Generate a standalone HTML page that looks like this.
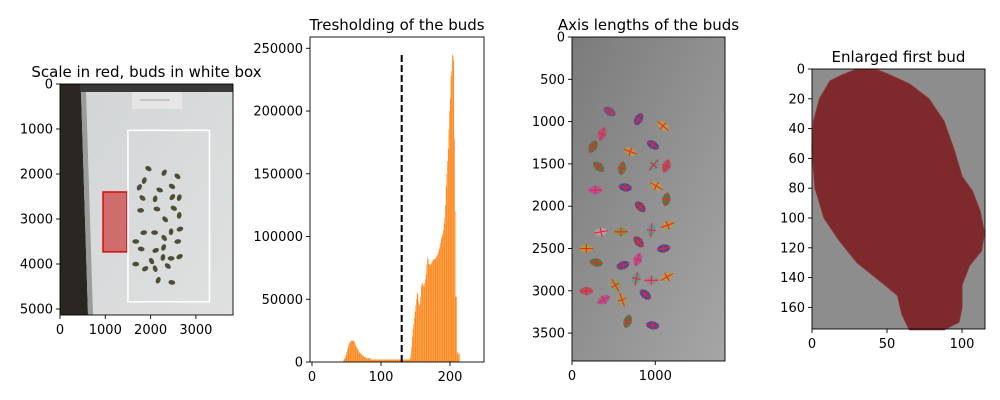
<!DOCTYPE html>
<html><head><meta charset="utf-8">
<style>
html,body{margin:0;padding:0;background:#fff;}
svg{display:block;font-family:"DejaVu Sans","Liberation Sans",sans-serif;}
.tick{font-size:13px;fill:#000;}
.title{font-size:15px;fill:#000;}
</style></head>
<body>
<svg id="fig" width="1000" height="400" viewBox="0 0 1000 400" xmlns="http://www.w3.org/2000/svg">
<defs>
<linearGradient id="paperGrad" x1="0" x2="1" y1="0" y2="1">
<stop offset="0" stop-color="#d2d5d6"/><stop offset="1" stop-color="#dfe1e1"/></linearGradient>
<linearGradient id="grayGrad" x1="0" x2="1" y1="0" y2="1">
<stop offset="0" stop-color="#7b7b7b"/><stop offset="1" stop-color="#a6a6a6"/></linearGradient>
</defs>
<g id="p1"></g>
<g id="p2"></g>
<g id="p3"></g>
<g id="p4"></g>
</svg>
<script>
// ---------- data ----------
const histStart = 45;
const histCounts = [1,2,3,4,6,
8,10,12,14,15,16,17,17,17,17,
17,16,15,13,12,11,10,9,8,7,
7,6,6,5,5,4,4,4,3,3,
3,3,3,3,3,2,2,2,2,2,
2,2,2,2,2,2,2,2,2,2,
2,2,2,2,2,2,2,2,2,2,
2,2,2,2,2,2,2,2,2,2,
2,2,2,2,2,2,2,2,2,2,
2,2,2,2,2,2,2,2,2,2,
2,2,3,6,12,20,26,30,35,40,
45,50,55,54,48,45,46,52,60,63,
62,61,60,63,66,70,78,83,82,78,
78,77,78,79,80,81,82,82,82,83,
84,85,86,88,90,92,95,98,100,102,
105,110,115,125,140,150,160,170,185,200,
210,228,232,245,244,240,178,120,52,52,
8,7,6,7]; // thousands
const thresholdValue = 130;
const thresholdTop = 245000;
const budX = [452,800,1092,360,252,972,700,320,600,980,1132,280,640,1012,1132,820,348,588,952,1148,172,800,1100,292,612,788,1140,772,952,172,520,600,880,380,668,968];
const budY = [881,972,1051,1146,1296,1276,1355,1533,1552,1513,1525,1809,1778,1762,1920,2007,2303,2303,2283,2224,2500,2421,2500,2666,2698,2631,2836,2856,2876,3002,2935,3105,3045,3105,3361,3409];
const budAngle = [30,-60,40,-70,-60,30,20,40,-80,-50,-70,0,10,30,-80,45,-10,0,-85,-20,0,50,-10,10,-20,-70,-30,-80,0,0,60,70,40,-30,-70,10];
const budColors = ["#5a5a8a","#4a4a9a","#a8a050","#a05a88","#4a7a4a","#4a4a9a","#a89a50","#4a7a4a","#5a7a4a","#5a9a9a","#a05a70","#a05aa8","#4a4a9a","#a8a050","#4a7a4a","#5a4a7a","#a0a0a8","#7a9a4a","#5a9a9a","#a89a50","#a89a40","#6a4a7a","#4a4a9a","#4a7a4a","#4a4a9a","#a05aa8","#a8a050","#5a9a9a","#8a8aa0","#a05a70","#8aa04a","#9aa050","#4a4a9a","#a05aa8","#4a7a4a","#4a4a9a"];
const p1Ticks = {x:[0,1000,2000,3000], y:[0,1000,2000,3000,4000,5000]};
const p2Ticks = {x:[0,100,200], y:[0,50000,100000,150000,200000,250000]};
const p3Ticks = {x:[0,1000], y:[0,500,1000,1500,2000,2500,3000,3500]};
const p4Ticks = {x:[0,50,100], y:[0,20,40,60,80,100,120,140,160]};
const blobX = [30,42,52,65,78,88,95,100,107,112,115,113,105,100,100,98,88,65,60,57,45,30,18,8,2,0,1,5,12,20];
const blobY = [0,0,4,10,20,35,55,72,82,95,110,122,132,145,160,170,175,175,165,152,142,130,115,100,80,55,35,20,8,4];

const NS="http://www.w3.org/2000/svg";
function mk(parent,tag,attrs){const e=document.createElementNS(NS,tag);for(const k in attrs)e.setAttribute(k,attrs[k]);parent.appendChild(e);return e;}

function axes(g,box,xs,ys,ticks,title,prefix){
  const fr=mk(g,'rect',{x:box.x0,y:box.y0,width:box.x1-box.x0,height:box.y1-box.y0,fill:'none',stroke:'#000','stroke-width':0.9});
  
  
  ticks.x.forEach(v=>{const px=xs(v);
    const l=mk(g,'line',{x1:px,x2:px,y1:box.y1,y2:box.y1+4,stroke:'#000','stroke-width':0.9});
    
    
    const t=mk(g,'text',{x:px,y:box.y1+19,'text-anchor':'middle',class:'tick'});t.textContent=v;
    
    
  });
  ticks.y.forEach(v=>{const py=ys(v);
    const l=mk(g,'line',{x1:box.x0-4,x2:box.x0,y1:py,y2:py,stroke:'#000','stroke-width':0.9});
    
    
    const t=mk(g,'text',{x:box.x0-7,y:py+4.5,'text-anchor':'end',class:'tick'});t.textContent=v;
    
    
  });
  const tt=mk(g,'text',{x:(box.x0+box.x1)/2,y:box.y0-7,'text-anchor':'middle',class:'title'});tt.textContent=title;
  
  
}

// ---------- panel 1 ----------
(function(){
  const g=document.getElementById('p1');
  const box={x0:60,x1:233,y0:84,y1:315};
  const xs=v=>box.x0+v*0.0453, ys=v=>box.y0+v*0.045;
  mk(g,'rect',{x:box.x0,y:box.y0,width:173,height:231,fill:'#2a2621'});
  mk(g,'rect',{x:box.x0+20,y:box.y0,width:153,height:10,fill:'#3a3937'});
  const paper=mk(g,'polygon',{points:`81,92 233,92 233,315 88,315`,fill:'url(#paperGrad)'});
  
  
  mk(g,'polygon',{points:`81,92 86,92 93,315 88,315`,fill:'#9a9c9c'});
  mk(g,'rect',{x:132,y:92,width:50,height:17,fill:'#e6e6e6'});
  mk(g,'line',{x1:140,x2:170,y1:100,y2:100,stroke:'#666','stroke-width':0.6});
  budX.forEach((x,i)=>{
    const b=mk(g,'ellipse',{cx:xs(x+1500),cy:ys(budY[i]+1000),rx:3.4,ry:2.3,fill:'#4e4e36',transform:`rotate(${budAngle[i]} ${xs(x+1500)} ${ys(budY[i]+1000)})`});
    
    
  });
  const red=mk(g,'rect',{x:xs(950),y:ys(2400),width:xs(1480)-xs(950),height:ys(3730)-ys(2400),fill:'rgba(205,80,80,0.8)',stroke:'#e01010','stroke-width':1.6});
  
  
  const wb=mk(g,'rect',{x:xs(1500),y:ys(1030),width:xs(3300)-xs(1500),height:ys(4840)-ys(1030),fill:'none',stroke:'#fff','stroke-width':1.6});
  
  
  axes(g,box,xs,ys,p1Ticks,'Scale in red, buds in white box','p1');
})();

// ---------- panel 2 ----------
(function(){
  const g=document.getElementById('p2');
  const box={x0:310,x1:484,y0:37,y1:362};
  const xs=v=>312+v*0.69, ys=v=>362-v*0.0012548;
  histCounts.forEach((c,i)=>{
    const v=(histStart+i), y=ys(c*1000);
    const r=mk(g,'rect',{x:xs(v),y:y,width:0.62,height:362-y,fill:'#ff7f0e'});
    
    
  });
  const d=mk(g,'line',{x1:xs(thresholdValue),x2:xs(thresholdValue),y1:ys(0),y2:ys(thresholdTop),stroke:'#000','stroke-width':2,'stroke-dasharray':'7,3'});
  
  
  axes(g,box,xs,ys,p2Ticks,'Tresholding of the buds','p2');
})();

// ---------- panel 3 ----------
(function(){
  const g=document.getElementById('p3');
  const box={x0:572,x1:725,y0:37,y1:361};
  const xs=v=>572+v*0.0833, ys=v=>37+v*0.0846;
  mk(g,'rect',{x:box.x0,y:box.y0,width:153,height:324,fill:'url(#grayGrad)'});
  budX.forEach((x,i)=>{
    const cx=xs(x), cy=ys(budY[i]), a=budAngle[i];
    const e=mk(g,'ellipse',{cx,cy,rx:6.5,ry:4,fill:budColors[i],transform:`rotate(${a} ${cx} ${cy})`});
    
    
    const c=mk(g,'path',{d:`M${cx-7},${cy}L${cx+7},${cy}M${cx},${cy-4.5}L${cx},${cy+4.5}`,stroke:'#ff2020','stroke-width':1.1,fill:'none',transform:`rotate(${a} ${cx} ${cy})`});
    
    
  });
  axes(g,box,xs,ys,p3Ticks,'Axis lengths of the buds','p3');
})();

// ---------- panel 4 ----------
(function(){
  const g=document.getElementById('p4');
  const box={x0:812,x1:985,y0:69,y1:329};
  const xs=v=>812+v*1.5, ys=v=>69+v*1.49;
  mk(g,'rect',{x:box.x0,y:box.y0,width:173,height:260,fill:'#8d8d8d'});
  const pts=blobX.map((x,i)=>xs(x)+','+ys(blobY[i])).join(' ');
  const b=mk(g,'polygon',{points:pts,fill:'#7e2a2c','stroke':'#8a3436','stroke-width':1,'stroke-linejoin':'round'});
  
  
  axes(g,box,xs,ys,p4Ticks,'Enlarged first bud','p4');
})();
</script>
</body></html>
